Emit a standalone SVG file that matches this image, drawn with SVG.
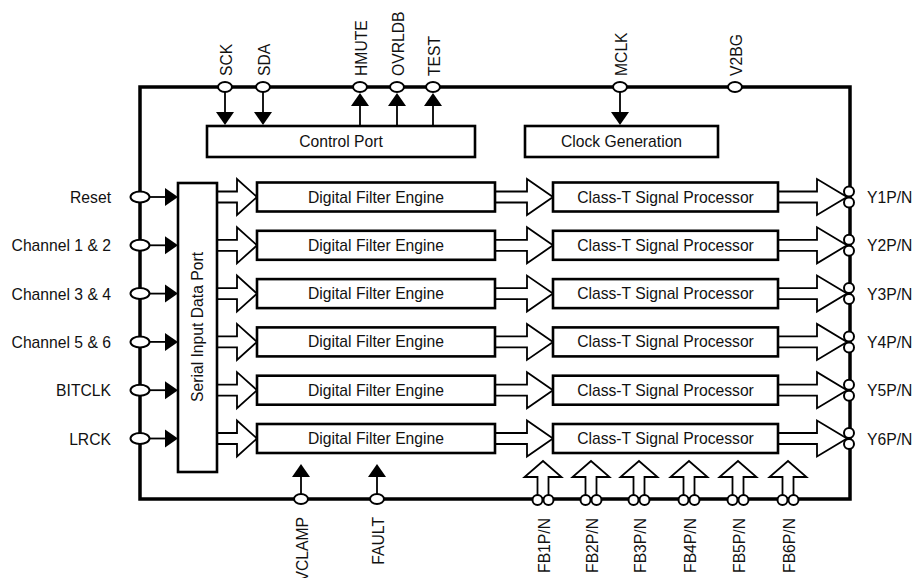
<svg xmlns="http://www.w3.org/2000/svg" width="916" height="578" viewBox="0 0 916 578">
<style>
text{font-family:"Liberation Sans",Arial,sans-serif;font-size:15.7px;fill:#111}
.box{fill:#fff;stroke:#000;stroke-width:2.6}
.frame{fill:none;stroke:#000;stroke-width:3.5}
.pin{fill:#fff;stroke:#000;stroke-width:2}
.ln{stroke:#000;stroke-width:1.8;fill:none}
.tri{fill:#000;stroke:none}
.fat{fill:#fff;stroke:#000;stroke-width:1.8;stroke-linejoin:miter}
.mid{text-anchor:middle}
.end{text-anchor:end}
</style>
<defs>
<polygon id="hfat1" class="fat" points="0,-5.5 20,-5.5 20,-18 40,0 20,18 20,5.5 0,5.5"/>
<polygon id="hfat2" class="fat" points="0,-5.5 32,-5.5 32,-18 58,0 32,18 32,5.5 0,5.5"/>
<polygon id="hfat3" class="fat" points="0,-5.5 39,-5.5 39,-18 69,0 39,18 39,5.5 0,5.5"/>
<polyline id="vfat" class="fat" points="-5.5,495 -5.5,477 -18.5,477 0,461 18.5,477 5.5,477 5.5,495"/>
</defs>

<rect id="frame" class="frame" x="140" y="87" width="710" height="412"/>

<g id="connectors">
  <!-- top control pins -->
  <line class="ln" x1="225" y1="92" x2="225" y2="113"/><polygon class="tri" points="216,112 234,112 225,125"/>
  <line class="ln" x1="263" y1="92" x2="263" y2="113"/><polygon class="tri" points="254,112 272,112 263,125"/>
  <line class="ln" x1="360" y1="105" x2="360" y2="126"/><polygon class="tri" points="351,106 369,106 360,93"/>
  <line class="ln" x1="397" y1="105" x2="397" y2="126"/><polygon class="tri" points="388,106 406,106 397,93"/>
  <line class="ln" x1="433" y1="105" x2="433" y2="126"/><polygon class="tri" points="424,106 442,106 433,93"/>
  <line class="ln" x1="620" y1="92" x2="620" y2="113"/><polygon class="tri" points="611,112 629,112 620,125"/>
  <!-- left inputs -->
  <g>
    <line class="ln" x1="149" y1="197" x2="166" y2="197"/><polygon class="tri" points="165,188 165,206 178,197"/>
    <line class="ln" x1="149" y1="245.3" x2="166" y2="245.3"/><polygon class="tri" points="165,236.3 165,254.3 178,245.3"/>
    <line class="ln" x1="149" y1="293.6" x2="166" y2="293.6"/><polygon class="tri" points="165,284.6 165,302.6 178,293.6"/>
    <line class="ln" x1="149" y1="341.9" x2="166" y2="341.9"/><polygon class="tri" points="165,332.9 165,350.9 178,341.9"/>
    <line class="ln" x1="149" y1="390.2" x2="166" y2="390.2"/><polygon class="tri" points="165,381.2 165,399.2 178,390.2"/>
    <line class="ln" x1="149" y1="438.5" x2="166" y2="438.5"/><polygon class="tri" points="165,429.5 165,447.5 178,438.5"/>
  </g>
  <!-- bottom VCLAMP / FAULT -->
  <line class="ln" x1="301" y1="494" x2="301" y2="476"/><polygon class="tri" points="292,477 310,477 301,464"/>
  <line class="ln" x1="377" y1="494" x2="377" y2="476"/><polygon class="tri" points="368,477 386,477 377,464"/>
  <!-- fat arrows per channel -->
  <use href="#hfat1" x="217" y="197"/><use href="#hfat2" x="495" y="197"/><use href="#hfat3" x="778" y="197"/>
  <use href="#hfat1" x="217" y="245.3"/><use href="#hfat2" x="495" y="245.3"/><use href="#hfat3" x="778" y="245.3"/>
  <use href="#hfat1" x="217" y="293.6"/><use href="#hfat2" x="495" y="293.6"/><use href="#hfat3" x="778" y="293.6"/>
  <use href="#hfat1" x="217" y="341.9"/><use href="#hfat2" x="495" y="341.9"/><use href="#hfat3" x="778" y="341.9"/>
  <use href="#hfat1" x="217" y="390.2"/><use href="#hfat2" x="495" y="390.2"/><use href="#hfat3" x="778" y="390.2"/>
  <use href="#hfat1" x="217" y="438.5"/><use href="#hfat2" x="495" y="438.5"/><use href="#hfat3" x="778" y="438.5"/>
  <!-- feedback fat arrows -->
  <use href="#vfat" x="543"/><use href="#vfat" x="591"/><use href="#vfat" x="639"/>
  <use href="#vfat" x="689"/><use href="#vfat" x="738"/><use href="#vfat" x="788"/>
</g>

<g id="control-port"><rect class="box" x="207" y="126" width="268" height="31"/><text class="mid" x="341" y="147">Control Port</text></g>
<g id="clock-generation"><rect class="box" x="525" y="126" width="193" height="31"/><text class="mid" x="621.5" y="147">Clock Generation</text></g>
<g id="serial-input-data-port"><rect class="box" x="178" y="183" width="39" height="289"/><text class="mid" transform="translate(203,327) rotate(-90)">Serial Input Data Port</text></g>

<g id="dfe1"><rect class="box" x="257" y="182.5" width="238" height="29"/><text class="mid" x="376" y="202.5">Digital Filter Engine</text></g>
<g id="dfe2"><rect class="box" x="257" y="230.8" width="238" height="29"/><text class="mid" x="376" y="250.8">Digital Filter Engine</text></g>
<g id="dfe3"><rect class="box" x="257" y="279.1" width="238" height="29"/><text class="mid" x="376" y="299.1">Digital Filter Engine</text></g>
<g id="dfe4"><rect class="box" x="257" y="327.4" width="238" height="29"/><text class="mid" x="376" y="347.4">Digital Filter Engine</text></g>
<g id="dfe5"><rect class="box" x="257" y="375.7" width="238" height="29"/><text class="mid" x="376" y="395.7">Digital Filter Engine</text></g>
<g id="dfe6"><rect class="box" x="257" y="424" width="238" height="29"/><text class="mid" x="376" y="444">Digital Filter Engine</text></g>

<g id="ctsp1"><rect class="box" x="553" y="182.5" width="225" height="29"/><text class="mid" x="665.5" y="202.5">Class-T Signal Processor</text></g>
<g id="ctsp2"><rect class="box" x="553" y="230.8" width="225" height="29"/><text class="mid" x="665.5" y="250.8">Class-T Signal Processor</text></g>
<g id="ctsp3"><rect class="box" x="553" y="279.1" width="225" height="29"/><text class="mid" x="665.5" y="299.1">Class-T Signal Processor</text></g>
<g id="ctsp4"><rect class="box" x="553" y="327.4" width="225" height="29"/><text class="mid" x="665.5" y="347.4">Class-T Signal Processor</text></g>
<g id="ctsp5"><rect class="box" x="553" y="375.7" width="225" height="29"/><text class="mid" x="665.5" y="395.7">Class-T Signal Processor</text></g>
<g id="ctsp6"><rect class="box" x="553" y="424" width="225" height="29"/><text class="mid" x="665.5" y="444">Class-T Signal Processor</text></g>

<!-- top pins -->
<g id="pin-sck"><ellipse class="pin" cx="225" cy="87" rx="7" ry="5"/><text transform="translate(231.5,76) rotate(-90)">SCK</text></g>
<g id="pin-sda"><ellipse class="pin" cx="263" cy="87" rx="7" ry="5"/><text transform="translate(269.5,76) rotate(-90)">SDA</text></g>
<g id="pin-hmute"><ellipse class="pin" cx="360" cy="87" rx="7" ry="5"/><text transform="translate(366.5,76) rotate(-90)">HMUTE</text></g>
<g id="pin-ovrldb"><ellipse class="pin" cx="397" cy="87" rx="7" ry="5"/><text transform="translate(403.5,76) rotate(-90)">OVRLDB</text></g>
<g id="pin-test"><ellipse class="pin" cx="433" cy="87" rx="7" ry="5"/><text transform="translate(439.5,76) rotate(-90)">TEST</text></g>
<g id="pin-mclk"><ellipse class="pin" cx="620" cy="87" rx="7" ry="5"/><text transform="translate(626.5,76) rotate(-90)">MCLK</text></g>
<g id="pin-v2bg"><ellipse class="pin" cx="735" cy="87" rx="7" ry="5"/><text transform="translate(741.5,76) rotate(-90)">V2BG</text></g>

<!-- left pins -->
<g id="pin-reset"><ellipse class="pin" cx="140" cy="197" rx="9.5" ry="5.5"/><text class="end" x="111" y="203">Reset</text></g>
<g id="pin-ch12"><ellipse class="pin" cx="140" cy="245.3" rx="9.5" ry="5.5"/><text class="end" x="111" y="251.3">Channel 1 &amp; 2</text></g>
<g id="pin-ch34"><ellipse class="pin" cx="140" cy="293.6" rx="9.5" ry="5.5"/><text class="end" x="111" y="299.6">Channel 3 &amp; 4</text></g>
<g id="pin-ch56"><ellipse class="pin" cx="140" cy="341.9" rx="9.5" ry="5.5"/><text class="end" x="111" y="347.9">Channel 5 &amp; 6</text></g>
<g id="pin-bitclk"><ellipse class="pin" cx="140" cy="390.2" rx="9.5" ry="5.5"/><text class="end" x="111" y="396.2">BITCLK</text></g>
<g id="pin-lrck"><ellipse class="pin" cx="140" cy="438.5" rx="9.5" ry="5.5"/><text class="end" x="111" y="444.5">LRCK</text></g>

<!-- right output pins -->
<g id="pin-y1"><circle class="pin" cx="849" cy="191.5" r="5"/><circle class="pin" cx="849" cy="202.5" r="5"/><text x="867" y="203">Y1P/N</text></g>
<g id="pin-y2"><circle class="pin" cx="849" cy="239.8" r="5"/><circle class="pin" cx="849" cy="250.8" r="5"/><text x="867" y="251.3">Y2P/N</text></g>
<g id="pin-y3"><circle class="pin" cx="849" cy="288.1" r="5"/><circle class="pin" cx="849" cy="299.1" r="5"/><text x="867" y="299.6">Y3P/N</text></g>
<g id="pin-y4"><circle class="pin" cx="849" cy="336.4" r="5"/><circle class="pin" cx="849" cy="347.4" r="5"/><text x="867" y="347.9">Y4P/N</text></g>
<g id="pin-y5"><circle class="pin" cx="849" cy="384.7" r="5"/><circle class="pin" cx="849" cy="395.7" r="5"/><text x="867" y="396.2">Y5P/N</text></g>
<g id="pin-y6"><circle class="pin" cx="849" cy="433" r="5"/><circle class="pin" cx="849" cy="444" r="5"/><text x="867" y="444.5">Y6P/N</text></g>

<!-- bottom pins -->
<g id="pin-vclamp"><ellipse class="pin" cx="301" cy="499" rx="7" ry="5"/><text class="end" transform="translate(307.5,517) rotate(-90)">VCLAMP</text></g>
<g id="pin-fault"><ellipse class="pin" cx="377" cy="499" rx="7" ry="5"/><text class="end" transform="translate(383.5,517) rotate(-90)">FAULT</text></g>
<g id="pin-fb1"><circle class="pin" cx="537.5" cy="500" r="5"/><circle class="pin" cx="548.5" cy="500" r="5"/><text class="end" transform="translate(549.5,518) rotate(-90)">FB1P/N</text></g>
<g id="pin-fb2"><circle class="pin" cx="585.5" cy="500" r="5"/><circle class="pin" cx="596.5" cy="500" r="5"/><text class="end" transform="translate(597.5,518) rotate(-90)">FB2P/N</text></g>
<g id="pin-fb3"><circle class="pin" cx="633.5" cy="500" r="5"/><circle class="pin" cx="644.5" cy="500" r="5"/><text class="end" transform="translate(645.5,518) rotate(-90)">FB3P/N</text></g>
<g id="pin-fb4"><circle class="pin" cx="683.5" cy="500" r="5"/><circle class="pin" cx="694.5" cy="500" r="5"/><text class="end" transform="translate(695.5,518) rotate(-90)">FB4P/N</text></g>
<g id="pin-fb5"><circle class="pin" cx="732.5" cy="500" r="5"/><circle class="pin" cx="743.5" cy="500" r="5"/><text class="end" transform="translate(744.5,518) rotate(-90)">FB5P/N</text></g>
<g id="pin-fb6"><circle class="pin" cx="782.5" cy="500" r="5"/><circle class="pin" cx="793.5" cy="500" r="5"/><text class="end" transform="translate(794.5,518) rotate(-90)">FB6P/N</text></g>
</svg>
